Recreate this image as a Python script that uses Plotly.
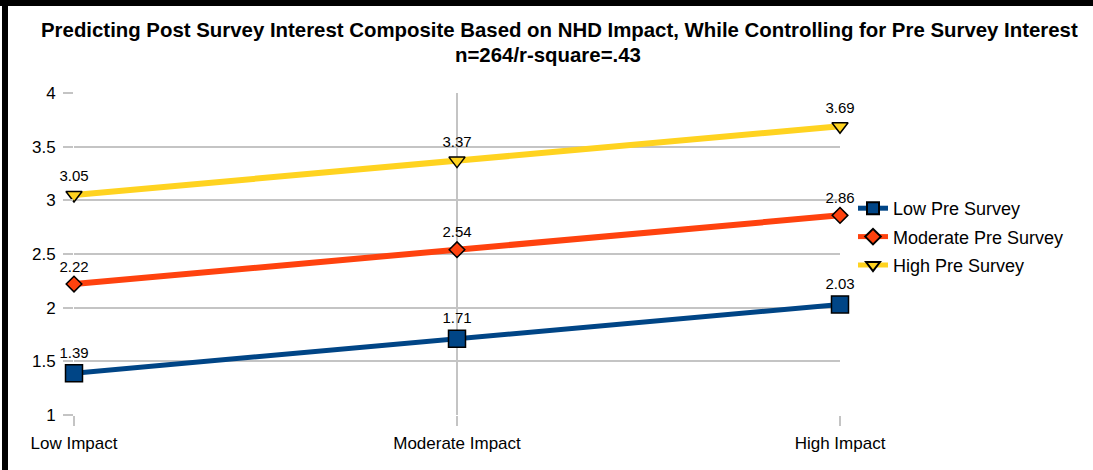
import plotly.graph_objects as go

categories = ["Low Impact", "Moderate Impact", "High Impact"]
low_pre = [1.39, 1.71, 2.03]
moderate_pre = [2.22, 2.54, 2.86]
high_pre = [3.05, 3.37, 3.69]
series_names = ["Low Pre Survey", "Moderate Pre Survey", "High Pre Survey"]
title_line1 = "Predicting Post Survey Interest Composite Based on NHD Impact, While Controlling for Pre Survey Interest"
title_line2 = "n=264/r-square=.43"

W, H = 1093, 470
L, R, T, B = 74, 840, 93, 415  # plot area pixel bounds

def px(x):
    return (x - L) / (R - L)

def py(y):
    return (B - y) / (B - T)

FONT = "Liberation Sans, Arial, sans-serif"
GRID = "#c4c4c4"

fig = go.Figure()
styles = [
    (low_pre, "#004586", "square", 17, 5),
    (moderate_pre, "#ff420e", "diamond", 12, 6),
    (high_pre, "#ffd320", "triangle-down", 14, 6),
]
for i, (name, (vals, col, sym, ms, lw)) in enumerate(zip(series_names, styles)):
    fig.add_trace(go.Scatter(
        x=categories, y=vals, name=name, mode="lines+markers+text",
        legendgroup=f"g{i}",
        line=dict(color=col, width=lw),
        marker=dict(symbol=sym, size=ms, color=col, line=dict(color="black", width=1.5)),
        text=[f"{v:.2f}" for v in vals], textposition="top center",
        textfont=dict(family=FONT, size=15, color="black"),
        cliponaxis=False,
    ))

fig.update_layout(
    width=W, height=H,
    margin=dict(l=L, r=W - R, t=T, b=H - B),
    paper_bgcolor="white", plot_bgcolor="white",
    font=dict(family=FONT, color="black"),
    showlegend=True,
    legend=dict(x=px(853), y=py(190), xanchor="left", yanchor="top",
                font=dict(family=FONT, size=18, color="black"),
                bgcolor="rgba(0,0,0,0)", itemwidth=30, tracegroupgap=2,
                itemsizing="constant"),
    xaxis=dict(type="category", range=[0, 2], showgrid=True, gridcolor=GRID, gridwidth=1.5,
               ticks="outside", ticklen=10, tickcolor=GRID, tickwidth=1.5,
               showline=False, zeroline=False, ticklabelstandoff=3,
               tickfont=dict(family=FONT, size=17, color="black")),
    yaxis=dict(range=[1, 4], dtick=0.5, showgrid=True, gridcolor=GRID, gridwidth=1.5,
               ticks="outside", ticklen=10, tickcolor=GRID, tickwidth=1.5,
               showline=False, zeroline=False, ticklabelstandoff=4,
               tickfont=dict(family=FONT, size=17, color="black")),
    annotations=[
        dict(text=f"<b>{title_line1}</b>", x=px(559), y=py(30), xref="paper", yref="paper",
             xanchor="center", yanchor="middle", showarrow=False,
             font=dict(family=FONT, size=20.4, color="black")),
        dict(text=f"<b>{title_line2}</b>", x=px(548), y=py(55), xref="paper", yref="paper",
             xanchor="center", yanchor="middle", showarrow=False,
             font=dict(family=FONT, size=20.4, color="black")),
    ],
    shapes=[
        dict(type="line", xref="paper", yref="paper", x0=px(5), x1=px(5), y0=py(0), y1=py(H + 5),
             line=dict(color="black", width=6)),
        dict(type="line", xref="paper", yref="paper", x0=px(0), x1=px(W + 5), y0=py(3), y1=py(3),
             line=dict(color="black", width=6)),
    ],
)

fig.write_html("out.html", config={"displayModeBar": False},
               post_script="document.body.style.margin='0';document.body.style.overflow='hidden';")
